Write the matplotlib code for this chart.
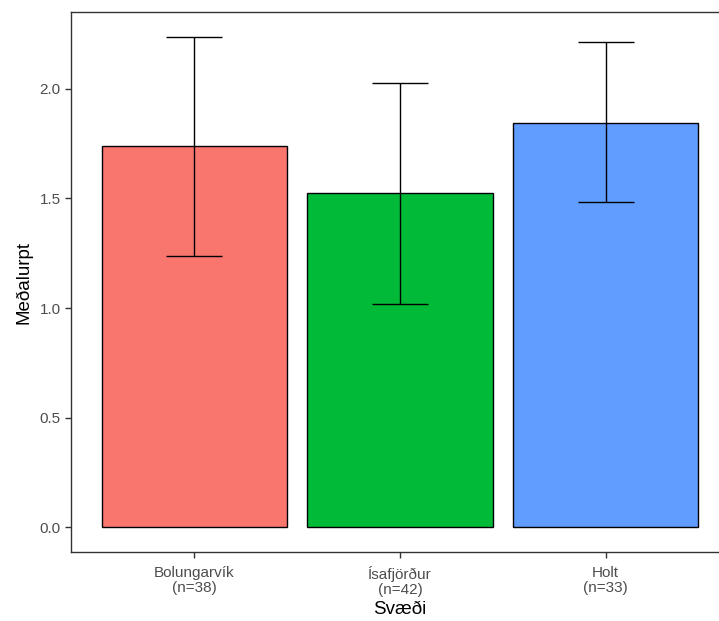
import numpy as np
import matplotlib.pyplot as plt

# Gögn lesin af myndinni
svaedi = ["Bolungarvík", "Ísafjörður", "Holt"]
fjoldi = [38, 42, 33]
medaltal = [1.736, 1.526, 1.845]
efri = [2.237, 2.027, 2.214]
nedri = [1.235, 1.020, 1.485]
litir = ["#F8766D", "#00BA38", "#619CFF"]

plt.rcParams['font.family'] = ['Liberation Sans', 'DejaVu Sans']

fig = plt.figure(figsize=(7.19, 6.21), dpi=100)
W, H = 719, 621
ax = fig.add_axes([71 / W, (H - 552) / H, (729 - 71) / W, (552 - 12) / H])

x = np.arange(1, len(svaedi) + 1)
ax.bar(x, medaltal, width=0.9, color=litir, edgecolor="black", linewidth=1.0, zorder=2)

medaltal = np.array(medaltal)
yerr = [medaltal - np.array(nedri), np.array(efri) - medaltal]
ax.errorbar(x, medaltal, yerr=yerr, fmt="none", ecolor="black",
            elinewidth=1.0, capsize=20, capthick=1.0, zorder=3)

ymax = max(efri)
pad = 0.05 * ymax
ax.set_ylim(-pad, ymax + pad)
ax.set_xlim(0.4, 3.6)

ax.set_yticks([0.0, 0.5, 1.0, 1.5, 2.0])
ax.set_yticklabels(["0.0", "0.5", "1.0", "1.5", "2.0"])
ax.set_xticks(x)
ax.set_xticklabels([f"{s}\n(n={n})" for s, n in zip(svaedi, fjoldi)],
                   multialignment="center", linespacing=1.1)

ax.tick_params(axis="both", colors="#333333", labelcolor="#4D4D4D",
               labelsize=11, length=4, width=1.0)
ax.tick_params(axis="x", pad=6)
for s in ax.spines.values():
    s.set_color("#333333")
    s.set_linewidth(1.0)

ax.set_xlabel("Svæði", fontsize=13.5, labelpad=3)
ax.set_ylabel("Meðalurpt", fontsize=13.5, labelpad=5)

fig.savefig("out.png", dpi=100)
